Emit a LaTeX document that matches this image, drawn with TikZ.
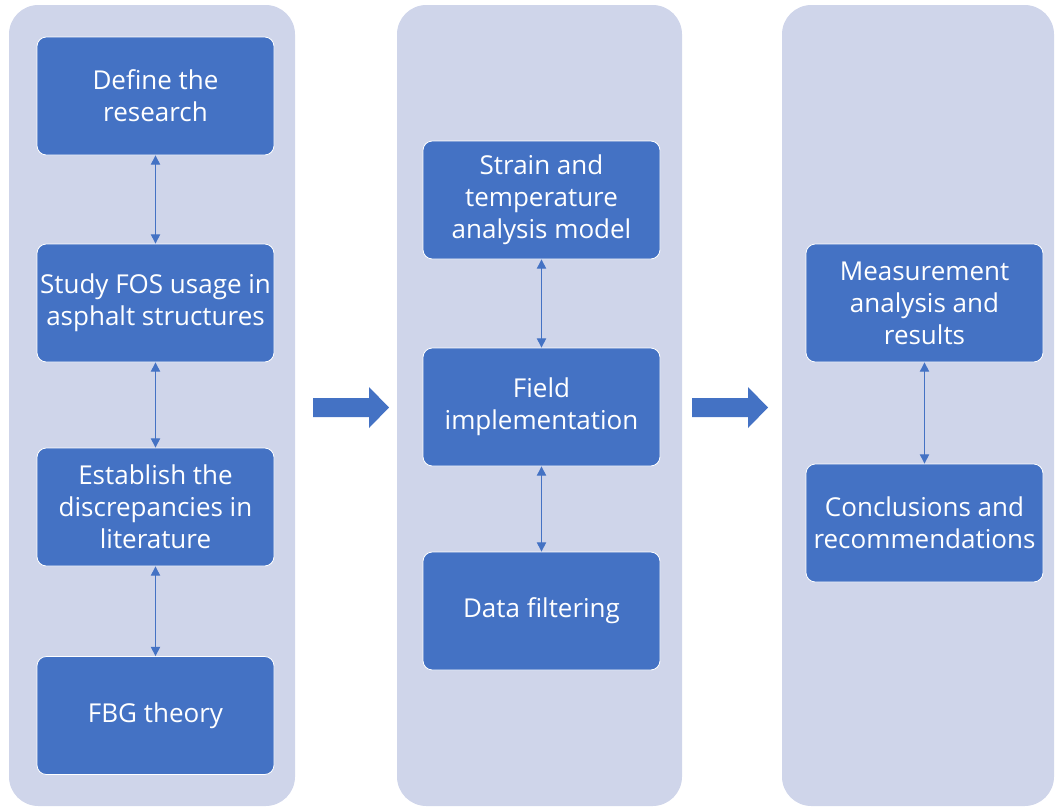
\documentclass[tikz,border=0pt]{standalone}
\usepackage{fontspec}
\setmainfont{Open Sans}
\usetikzlibrary{arrows.meta}
\definecolor{boxblue}{HTML}{4472C4}
\definecolor{panelgray}{HTML}{CFD5EA}
\begin{document}
\begin{tikzpicture}[x=0.75pt,y=-0.75pt,
	panel/.style={fill=panelgray,rounded corners=22pt},
	box/.style={draw=white,line width=0.6pt,fill=boxblue,rounded corners=7pt,text=white,
		minimum width=177.75pt,minimum height=88.5pt,align=center,inner sep=0pt,
		font=\fontsize{19.5}{24}\selectfont},
	link/.style={boxblue,line width=0.8pt,{Triangle[width=7pt,length=7pt]}-{Triangle[width=7pt,length=7pt]}},
	bigarrow/.style={fill=boxblue}]
	\useasboundingbox (0,0) rectangle (1056,807);
	% panels
	\fill[panel] (9,5) rectangle (295,806);
	\fill[panel] (397,5) rectangle (682,806);
	\fill[panel] (782,5) rectangle (1054,806);
	% first column
	\node[box] (define) at (155.5,96) {Define the\\research};
	\node[box] (study) at (155.5,303) {Study FOS usage in\\asphalt structures};
	\node[box] (gaps) at (155.5,507) {Establish the\\discrepancies in\\literature};
	\node[box] (fbg) at (155.5,715.5) {FBG theory};
	\draw[link] (define) -- (study);
	\draw[link] (study) -- (gaps);
	\draw[link] (gaps) -- (fbg);
	% second column
	\node[box] (model) at (541.5,200) {Strain and\\temperature\\analysis model};
	\node[box] (field) at (541.5,407) {Field\\implementation};
	\node[box] (filter) at (541.5,611) {Data filtering};
	\draw[link] (model) -- (field);
	\draw[link] (field) -- (filter);
	% third column
	\node[box] (results) at (924.5,303) {Measurement\\analysis and\\results};
	\node[box] (concl) at (924.5,523) {Conclusions and\\recommendations};
	\draw[link] (results) -- (concl);
	% block arrows
	\fill[bigarrow] (313,398) -- (369,398) -- (369,387) -- (389,407.5) -- (369,428) -- (369,417) -- (313,417) -- cycle;
	\fill[bigarrow] (692,398) -- (748,398) -- (748,387) -- (768,407.5) -- (748,428) -- (748,417) -- (692,417) -- cycle;
\end{tikzpicture}
\end{document}
